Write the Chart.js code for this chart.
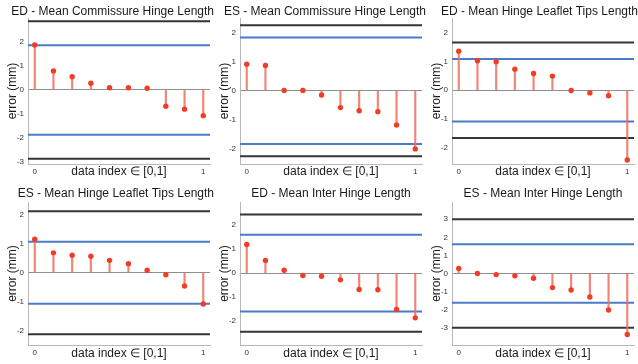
<!DOCTYPE html>
<html lang="en">
<head>
<meta charset="UTF-8">
<title>Hinge length error plots</title>
<script src="https://cdn.jsdelivr.net/npm/chart.js"></script>
<style>
  body { margin: 0; background: #fff; }
  #wrap { position: relative; width: 638px; height: 364px; overflow: hidden; }
  #wrap canvas { position: absolute; }
</style>
</head>
<body>
<div id="wrap"></div>
<script>
// data index of each sample (normalised to [0,1])
var dataIndex = [0, 0.111, 0.222, 0.333, 0.444, 0.556, 0.667, 0.778, 0.889, 1];
var xTicks = [0, 1];

var titles = [
  'ED - Mean Commissure Hinge Length',
  'ES - Mean Commissure Hinge Length',
  'ED - Mean Hinge Leaflet Tips Length',
  'ES - Mean Hinge Leaflet Tips Length',
  'ED - Mean Inter Hinge Length',
  'ES - Mean Inter Hinge Length'
];

// error values (mm), sorted
var edCommissure = [1.87, 0.79, 0.55, 0.28, 0.09, 0.09, 0.07, -0.68, -0.80, -1.07];
var esCommissure = [0.91, 0.87, 0.01, 0.01, -0.15, -0.58, -0.69, -0.72, -1.18, -2.00];
var edLeafletTips = [1.35, 1.02, 0.99, 0.73, 0.58, 0.49, -0.01, -0.09, -0.19, -2.41];
var esLeafletTips = [1.16, 0.69, 0.61, 0.57, 0.43, 0.31, 0.09, -0.07, -0.46, -1.08];
var edInterHinge = [1.19, 0.53, 0.12, -0.10, -0.13, -0.28, -0.68, -0.69, -1.51, -1.86];
var esInterHinge = [0.28, 0.00, -0.06, -0.13, -0.26, -0.78, -0.91, -1.30, -2.02, -3.37];

// limit lines (+/-)
var blueLimits = [1.86, 1.83, 1.08, 1.07, 1.60, 1.61];
var blackLimits = [2.86, 2.25, 1.65, 2.13, 2.44, 3.00];

// axis ranges
var xRange = [-0.04, 1.04];
var yMins = [-3.08, -2.52, -2.55, -2.5, -2.99, -3.95];
var yMaxs = [2.99, 2.5, 2.5, 2.45, 2.96, 3.95];

var series = [edCommissure, esCommissure, edLeafletTips, esLeafletTips, edInterHinge, esInterHinge];

var FONT = '"Liberation Sans", Arial, Helvetica, sans-serif';
Chart.defaults.font.family = FONT;

var measure = document.createElement('canvas').getContext('2d');
measure.font = '12px ' + FONT;

function hLine(v, color) {
  return {
    type: 'line',
    data: [{x: xRange[0], y: v}, {x: xRange[1], y: v}],
    borderColor: color,
    borderWidth: 2,
    pointRadius: 0
  };
}

var wrap = document.getElementById('wrap');

series.forEach(function (vals, i) {
  var row = Math.floor(i / 3), col = i % 3;
  var cv = document.createElement('canvas');
  cv.width = 214;
  cv.height = 182;
  cv.style.left = (col * 212) + 'px';
  cv.style.top = (row * 182) + 'px';
  wrap.appendChild(cv);

  var pts = vals.map(function (v, k) { return {x: dataIndex[k], y: v}; });
  var longTitle = measure.measureText(titles[i]).width > 186;

  new Chart(cv.getContext('2d'), {
    type: 'scatter',
    data: {
      datasets: [
        {
          type: 'scatter',
          data: pts,
          pointRadius: 2.7,
          pointBackgroundColor: '#f23d26',
          pointBorderWidth: 0
        },
        {
          type: 'bar',
          data: pts,
          backgroundColor: 'rgba(236, 110, 95, 0.85)',
          barThickness: 1.5,
          grouped: false
        },
        hLine(blueLimits[i], '#4a7bc8'),
        hLine(-blueLimits[i], '#4a7bc8'),
        hLine(blackLimits[i], '#353535'),
        hLine(-blackLimits[i], '#353535')
      ]
    },
    options: {
      responsive: false,
      animation: false,
      layout: { padding: 0 },
      plugins: {
        legend: { display: false },
        tooltip: { enabled: false },
        title: {
          display: true,
          text: titles[i],
          fullSize: longTitle,
          align: longTitle ? 'end' : 'center',
          color: '#1a1a1a',
          font: { size: 12, weight: 'normal', lineHeight: 1 },
          padding: { top: 6, bottom: row === 0 ? 0 : 2 }
        }
      },
      scales: {
        x: {
          type: 'linear',
          offset: false,
          min: xRange[0],
          max: xRange[1],
          afterBuildTicks: function (s) {
            s.ticks = xTicks.map(function (v) { return {value: v}; });
          },
          afterFit: function (s) { s.height = row === 0 ? 18 : 19; },
          grid: { display: false, drawTicks: false, offset: false },
          border: { display: true, color: '#b8b8b8', width: 1 },
          ticks: { padding: 3, color: '#333', font: { size: 8 }, maxRotation: 0 },
          title: {
            display: true,
            text: 'data index \u2208 [0,1]',
            color: '#1a1a1a',
            font: { size: 12 },
            padding: { top: 0, bottom: 3 }
          }
        },
        y: {
          type: 'linear',
          min: yMins[i],
          max: yMaxs[i],
          afterFit: function (s) { s.width = 28; },
          grid: {
            display: true,
            drawTicks: false,
            lineWidth: 1,
            color: function (c) { return c.tick && c.tick.value === 0 ? '#8e8e8e' : 'rgba(0,0,0,0)'; }
          },
          border: { display: true, color: '#b8b8b8', width: 1 },
          ticks: {
            stepSize: 1,
            includeBounds: false,
            padding: 4,
            color: '#333',
            font: { size: 8 }
          },
          title: {
            display: true,
            text: 'error (mm)',
            color: '#1a1a1a',
            font: { size: 12 },
            padding: { top: 5, bottom: 0 }
          }
        }
      }
    }
  });
});
</script>
</body>
</html>
